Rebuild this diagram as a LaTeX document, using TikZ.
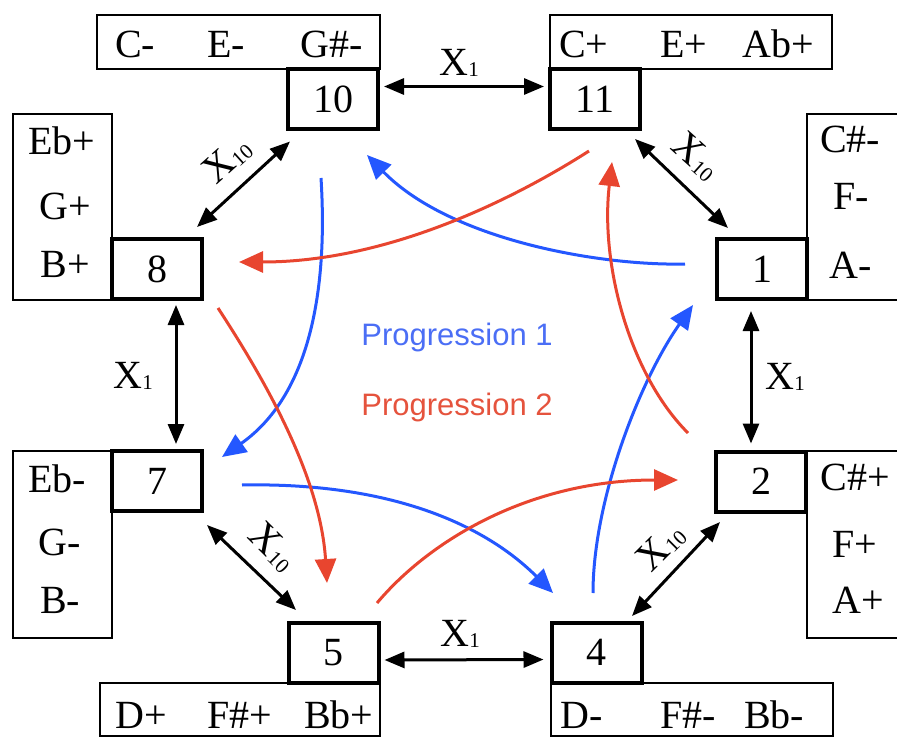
\documentclass[tikz,border=0pt]{standalone}
\usepackage{fontspec}
\setmainfont{Liberation Serif}
\newfontfamily\progfont{Liberation Sans}
\usetikzlibrary{arrows.meta}
\definecolor{pblue}{RGB}{36,87,255}
\definecolor{pred}{RGB}{232,69,47}
\definecolor{tblue}{RGB}{75,110,245}
\definecolor{tred}{RGB}{229,83,61}
\newcommand{\xsub}[1]{X\kern0.5pt\raisebox{-1.5pt}{\fontsize{21}{21}\selectfont #1}}
\begin{document}
\begin{tikzpicture}[x=1pt,y=-1pt,
  numbox/.style={draw, line width=4pt, minimum width=90pt, minimum height=60pt, inner sep=0pt, font=\fontsize{40}{42}\selectfont},
  chordbox/.style={draw, line width=1.8pt, inner sep=0pt},
  chord/.style={inner sep=0pt, font=\fontsize{40}{42}\selectfont},
  xlab/.style={inner sep=0pt, font=\fontsize{40}{42}\selectfont},
  blk/.style={line width=3pt, {Triangle[length=20pt,width=16pt]}-{Triangle[length=20pt,width=16pt]}},
  parr/.style={line width=3pt, -{Triangle[length=24pt,width=21pt]}},
  prog/.style={inner sep=0pt, font=\progfont\fontsize{31}{33}\selectfont}
]
\useasboundingbox (0,0) rectangle (897,738);

% chord boxes
\node[chordbox, minimum width=283pt, minimum height=54pt] (c10) at (238.5,42) {};
\node[chordbox, minimum width=282pt, minimum height=54pt] (c11) at (691,42) {};
\node[chordbox, minimum width=99pt, minimum height=186pt] (c8) at (62.5,207) {};
\node[chordbox, minimum width=99pt, minimum height=187pt] (c7) at (62.5,544.5) {};
\node[chordbox, minimum width=113pt, minimum height=186pt] (c1) at (863.5,207) {};
\node[chordbox, minimum width=113pt, minimum height=187pt] (c2) at (863.5,544.5) {};
\node[chordbox, minimum width=280pt, minimum height=53pt] (c5) at (240,709.5) {};
\node[chordbox, minimum width=282pt, minimum height=53pt] (c4) at (692,709.5) {};

% chord names
\node[chord, anchor=base west] (t10a) at (115,58) {C-};
\node[chord, anchor=base west] (t10b) at (207,58) {E-};
\node[chord, anchor=base west] (t10c) at (300,58) {G\#-};
\node[chord, anchor=base west] (t11a) at (559,58) {C+};
\node[chord, anchor=base west] (t11b) at (660,58) {E+};
\node[chord, anchor=base west] (t11c) at (742,58) {Ab+};
\node[chord, anchor=base] (t8a) at (62,155) {Eb+};
\node[chord, anchor=base] (t8b) at (65,220) {G+};
\node[chord, anchor=base] (t8c) at (65,277) {B+};
\node[chord, anchor=base] (t7a) at (57,492) {Eb-};
\node[chord, anchor=base] (t7b) at (60,555) {G-};
\node[chord, anchor=base] (t7c) at (60,613) {B-};
\node[chord, anchor=base] (t1a) at (850,153) {C\#-};
\node[chord, anchor=base] (t1b) at (851,210) {F-};
\node[chord, anchor=base] (t1c) at (851,278) {A-};
\node[chord, anchor=base] (t2a) at (855,490) {C\#+};
\node[chord, anchor=base] (t2b) at (855,557) {F+};
\node[chord, anchor=base] (t2c) at (858,613) {A+};
\node[chord, anchor=base west] (t5a) at (115,728) {D+};
\node[chord, anchor=base west] (t5b) at (207,728) {F\#+};
\node[chord, anchor=base west] (t5c) at (304,728) {Bb+};
\node[chord, anchor=base west] (t4a) at (560,728) {D-};
\node[chord, anchor=base west] (t4b) at (660,728) {F\#-};
\node[chord, anchor=base west] (t4c) at (744,728) {Bb-};

% number boxes
\node[numbox] (n10) at (333,99.5) {10};
\node[numbox] (n11) at (595,99.5) {11};
\node[numbox] (n8) at (157,269) {8};
\node[numbox] (n1) at (762,269) {1};
\node[numbox] (n7) at (157,481) {7};
\node[numbox] (n2) at (761,481.5) {2};
\node[numbox] (n5) at (333.5,653) {5};
\node[numbox] (n4) at (596.5,652.5) {4};

% black transformations
\draw[blk, shorten <=4pt, shorten >=4pt] ([yshift=13pt]n10.east) -- ([yshift=13pt]n11.west);
\draw[blk, shorten <=4pt, shorten >=6pt] ([yshift=-7pt]n5.east) -- ([yshift=-7pt]n4.west);
\draw[blk, shorten <=4pt, shorten >=5pt] ([xshift=19pt]n8.south) -- ([xshift=19pt]n7.north);
\draw[blk, shorten <=10pt, shorten >=6pt] ([xshift=-11pt]n1.south) -- ([xshift=-10pt]n2.north);
\draw[blk] ([shift={(4pt,-10pt)}]n10.south west) -- ([shift={(-7pt,10pt)}]n8.north east);
\draw[blk] ([shift={(-7pt,-7.5pt)}]n11.south east) -- ([shift={(13pt,9pt)}]n1.north west);
\draw[blk] ([shift={(3pt,-12pt)}]n7.south east) -- ([shift={(9.5pt,11pt)}]n5.north west);
\draw[blk] ([shift={(6pt,-8.5pt)}]n2.south west) -- ([shift={(-11.5pt,4.5pt)}]n4.north east);

\node[xlab] (l1) at (459,63) {\xsub{1}};
\node[xlab] (l2) at (460,634) {\xsub{1}};
\node[xlab] (l3) at (133,376) {\xsub{1}};
\node[xlab] (l4) at (785,377) {\xsub{1}};
\node[xlab, rotate=42] (l5) at (227,160) {\xsub{10}};
\node[xlab, rotate=-42] (l6) at (696,156) {\xsub{10}};
\node[xlab, rotate=-45] (l7) at (273,547) {\xsub{10}};
\node[xlab, rotate=45] (l8) at (661,547) {\xsub{10}};

% progression arrows
\coordinate (b1s) at (685,264);  \coordinate (b1e) at (367,155);
\coordinate (b2s) at (321,178);  \coordinate (b2e) at (222,457);
\coordinate (b3s) at (242,485);  \coordinate (b3e) at (553,593);
\coordinate (b4s) at (593,593);  \coordinate (b4e) at (693,305);
\coordinate (r1s) at (589,151);  \coordinate (r1e) at (239,262);
\coordinate (r2s) at (218,308);  \coordinate (r2e) at (327,583);
\coordinate (r3s) at (377,603);  \coordinate (r3e) at (678,480);
\coordinate (r4s) at (688,433);  \coordinate (r4e) at (612,162);

\draw[parr, pblue] (b1s) .. controls (600,266) and (450,240) .. (b1e);
\draw[parr, pblue] (b2s) .. controls (328,290) and (310,395) .. (b2e);
\draw[parr, pblue] (b3s) .. controls (400,482) and (490,530) .. (b3e);
\draw[parr, pblue] (b4s) .. controls (593,500) and (640,380) .. (b4e);
\draw[parr, pred] (r1s) .. controls (525,192) and (395,262) .. (r1e);
\draw[parr, pred] (r2s) .. controls (255,365) and (320,470) .. (r2e);
\draw[parr, pred] (r3s) .. controls (430,540) and (530,480) .. (r3e);
\draw[parr, pred] (r4s) .. controls (630,375) and (600,265) .. (r4e);

\node[prog, text=tblue] (p1) at (457,337) {Progression 1};
\node[prog, text=tred] (p2) at (457,407) {Progression 2};
\end{tikzpicture}
\end{document}
